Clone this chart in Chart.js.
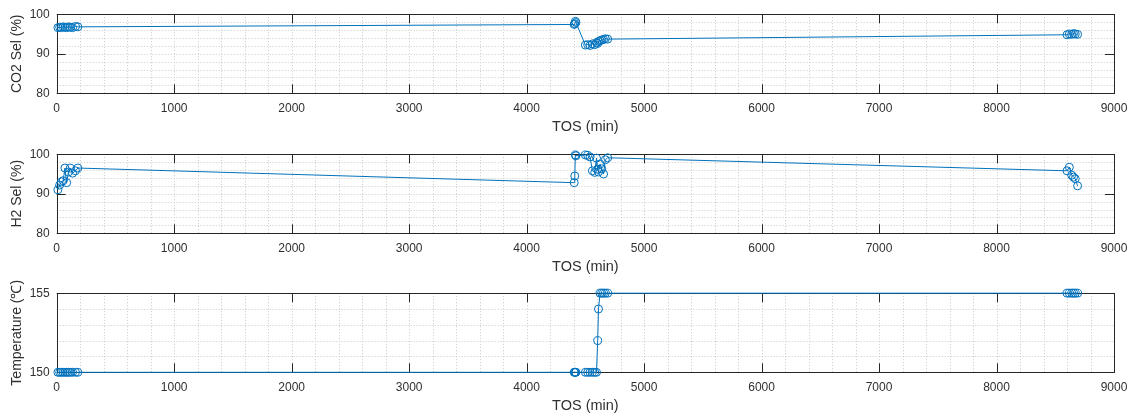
<!DOCTYPE html>
<html><head><meta charset="utf-8">
<script src="https://cdn.jsdelivr.net/npm/chart.js@4/dist/chart.umd.min.js"></script>
<style>
body{margin:0;background:#fff;width:1136px;height:419px;overflow:hidden;position:relative}
canvas{position:absolute;left:0}
</style></head><body>
<canvas id="c1" width="1136" height="140" style="top:0px"></canvas>
<canvas id="c2" width="1136" height="140" style="top:140px"></canvas>
<canvas id="c3" width="1136" height="140" style="top:279px"></canvas>
<script>
// ---- data ----
const tos = [10,25,40,55,70,85,100,115,135,160,180,
  4405,4410,4415,4420,
  4500,4520,4540,4560,4580,4595,4605,4612,4625,4640,4655,4670,4690,
  8600,8620,8640,8655,8670,8690];
const co2Sel = [96.6,96.7,96.6,96.8,96.7,96.6,96.8,96.7,96.6,96.9,96.8,
  97.4,97.6,98.2,97.9,
  92.2,92.3,92.1,92.5,92.3,92.8,92.6,93.1,93.3,93.5,93.6,93.8,93.7,
  94.8,95.0,94.9,95.1,95.0,94.9];
const h2Sel = [91.0,92.2,93.0,93.3,96.5,92.8,95.5,96.5,95.2,95.8,96.5,
  92.8,94.5,99.8,99.6,
  99.8,99.7,99.3,95.8,95.4,99.0,96.2,95.5,97.5,96.3,95.0,98.6,99.1,
  95.8,96.7,94.7,94.2,93.8,92.0];
const temperature = [150,150,150,150,150,150,150,150,150,150,150,
  150,150,150,150,
  150,150,150,150,150,150,152,154,155,155,155,155,155,
  155,155,155,155,155,155];
const xTicks = [0,1000,2000,3000,4000,5000,6000,7000,8000,9000];
const selTicks = [80,90,100];
const tempTicks = [150,155];
const xLabel = 'TOS (min)';
const yLabels = ['CO2 Sel (%)','H2 Sel (%)','Temperature (℃)'];

// ---- style ----
const LINE = '#0072BD';
const FONT = '"Liberation Sans", Arial, Helvetica, sans-serif';
const TXT = '#303030';

const framePlugin = {
  id: 'frame',
  beforeDatasetsDraw(chart, args, opts) {
    const {ctx, chartArea: a, scales: {x, y}} = chart;
    const px = v => Math.round(v) + 0.5;
    ctx.save();
    ctx.strokeStyle = '#c9c9c9';
    ctx.lineWidth = 1;
    ctx.setLineDash([1, 2]);
    for (let v = x.min + opts.xMinor; v < x.max - 1e-9; v += opts.xMinor) {
      const p = px(x.getPixelForValue(v));
      ctx.beginPath(); ctx.moveTo(p, a.top); ctx.lineTo(p, a.bottom); ctx.stroke();
    }
    for (let v = y.min + opts.yMinor; v < y.max - 1e-9; v += opts.yMinor) {
      const p = px(y.getPixelForValue(v));
      ctx.beginPath(); ctx.moveTo(a.left, p); ctx.lineTo(a.right, p); ctx.stroke();
    }
    ctx.setLineDash([]);
    ctx.strokeStyle = '#262626';
    x.ticks.forEach(t => {
      const p = px(x.getPixelForValue(t.value));
      ctx.beginPath();
      ctx.moveTo(p, a.bottom); ctx.lineTo(p, a.bottom - 9);
      ctx.moveTo(p, a.top); ctx.lineTo(p, a.top + 9);
      ctx.stroke();
    });
    y.ticks.forEach(t => {
      const p = px(y.getPixelForValue(t.value));
      ctx.beginPath();
      ctx.moveTo(a.left, p); ctx.lineTo(a.left + 9, p);
      ctx.moveTo(a.right, p); ctx.lineTo(a.right - 9, p);
      ctx.stroke();
    });
    ctx.strokeRect(px(a.left), px(a.top), Math.round(a.right) - Math.round(a.left), Math.round(a.bottom) - Math.round(a.top));
    ctx.restore();
  }
};

function makeChart(id, values, yTicks, yMinor, yTitle) {
  const pts = tos.map((t, i) => ({x: t, y: values[i]}));
  return new Chart(document.getElementById(id), {
    type: 'scatter',
    data: { datasets: [{
      data: pts,
      showLine: true,
      borderColor: LINE,
      borderWidth: 1,
      pointStyle: 'circle',
      pointRadius: 4,
      pointHoverRadius: 4,
      pointBorderWidth: 1,
      pointBorderColor: LINE,
      pointBackgroundColor: 'rgba(0,0,0,0)',
      tension: 0,
      clip: false
    }]},
    options: {
      responsive: false,
      animation: false,
      events: [],
      layout: { padding: { top: 13.3, right: 22, left: 0, bottom: 0 } },
      plugins: { legend: { display: false }, tooltip: { enabled: false },
        frame: { xMinor: 200, yMinor: yMinor } },
      scales: {
        x: {
          type: 'linear', min: xTicks[0], max: xTicks[xTicks.length - 1],
          afterBuildTicks: s => { s.ticks = xTicks.map(v => ({value: v})); },
          afterFit: s => { s.height = 46.7; },
          grid: { display: false, drawTicks: false },
          border: { display: false },
          ticks: { padding: 8, color: TXT, font: { family: FONT, size: 12 }, maxRotation: 0, autoSkip: false,
                   callback: v => String(v) },
          title: { display: true, text: xLabel, color: TXT, font: { family: FONT, size: 14.5 }, padding: { top: 0, bottom: 4 } }
        },
        y: {
          type: 'linear', min: yTicks[0], max: yTicks[yTicks.length - 1],
          afterBuildTicks: s => { s.ticks = yTicks.map(v => ({value: v})); },
          afterFit: s => { s.width = 56.7; },
          grid: { display: false, drawTicks: false },
          border: { display: false },
          ticks: { padding: 7, color: TXT, font: { family: FONT, size: 12 }, callback: v => String(v) },
          title: { display: true, text: yTitle, color: TXT, font: { family: FONT, size: 14 }, padding: { top: 9, bottom: 0 } }
        }
      }
    },
    plugins: [framePlugin]
  });
}

makeChart('c1', co2Sel, selTicks, 2, yLabels[0]);
makeChart('c2', h2Sel, selTicks, 2, yLabels[1]);
makeChart('c3', temperature, tempTicks, 1, yLabels[2]);
</script>
</body></html>
